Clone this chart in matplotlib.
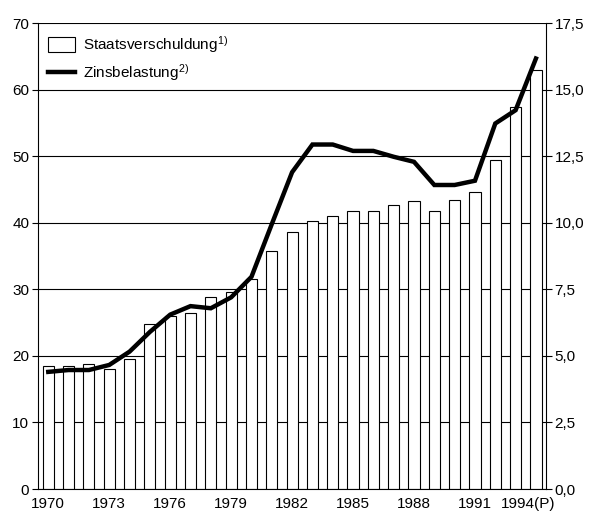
import numpy as np
import matplotlib
matplotlib.use("Agg")
import matplotlib.pyplot as plt
import matplotlib.transforms as mtrans
from matplotlib.patches import Patch
from matplotlib.lines import Line2D
from matplotlib.ticker import FuncFormatter

plt.rcParams['font.family'] = ['Liberation Sans', 'DejaVu Sans']
plt.rcParams['mathtext.default'] = 'regular'

years = list(range(1970, 1995))
# Staatsverschuldung (linke Achse)
schulden = [18.5, 18.5, 18.8, 18.1, 19.5, 24.8, 26.0, 26.5, 28.8, 29.6,
            31.6, 35.7, 38.6, 40.3, 41.0, 41.7, 41.7, 42.7, 43.2, 41.8,
            43.4, 44.6, 49.5, 57.4, 63.0]
# Zinsbelastung (rechte Achse)
zinsen = [4.4, 4.47, 4.47, 4.66, 5.16, 5.9, 6.55, 6.87, 6.79, 7.2,
          7.97, 9.95, 11.9, 12.94, 12.94, 12.7, 12.7, 12.48, 12.29, 11.42,
          11.42, 11.58, 13.73, 14.23, 16.17]
xlabels = ['1970', '1973', '1976', '1979', '1982', '1985', '1988', '1991', '1994(P)']
left_ticks = [0, 10, 20, 30, 40, 50, 60, 70]
right_ticks = [0, 2.5, 5, 7.5, 10, 12.5, 15, 17.5]

x = np.arange(len(years))

fig = plt.figure(figsize=(5.91, 5.14), dpi=100)
ax = fig.add_axes([0.0638, 0.0486, 0.8602, 0.9064])
ax.set_axisbelow(True)
ax.grid(axis='y', color='black', linewidth=0.8)
ax.bar(x, schulden, width=0.55, color='white', edgecolor='black', linewidth=0.8, zorder=2)
ax.set_ylim(0, 70)
ax.set_xlim(-0.52, 24.5)
ax.set_yticks(left_ticks)
ax.set_xticks(x[::3])
ax.set_xticklabels(xlabels)
ax.tick_params(axis='x', length=0, labelsize=11, pad=6)
ax.tick_params(axis='y', length=4, width=0.8, labelsize=11, pad=2)
for s in ['top', 'right']:
    ax.spines[s].set_visible(False)

# "1994(P)" sits a bit left, like in the original
last = ax.get_xticklabels()[-1]
last.set_transform(last.get_transform() + mtrans.ScaledTranslation(-8 / 100, 0, fig.dpi_scale_trans))

ax2 = ax.twinx()
ax2.plot(x, zinsen, color='black', linewidth=3.2, solid_joinstyle='miter', zorder=3)
ax2.set_ylim(0, 17.5)
ax2.set_yticks(right_ticks)
ax2.yaxis.set_major_formatter(FuncFormatter(lambda v, p: f"{v:.1f}".replace('.', ',')))
ax2.tick_params(axis='y', length=4, width=0.8, labelsize=11, pad=2)
for s in ['top', 'left', 'bottom']:
    ax2.spines[s].set_visible(False)
ax2.spines['right'].set_linewidth(0.8)
ax.spines['left'].set_linewidth(0.8)
ax.spines['bottom'].set_linewidth(0.8)

handles = [Patch(facecolor='white', edgecolor='black', linewidth=0.8),
           Line2D([0], [0], color='black', linewidth=3.2)]
labels = ['Staatsverschuldung$^{1)}$', 'Zinsbelastung$^{2)}$']
ax2.legend(handles, labels, loc='upper left', frameon=False, fontsize=11,
           handlelength=1.75, handleheight=1.1, handletextpad=0.5,
           borderaxespad=0.3, labelspacing=0.5)

fig.savefig('out.png', dpi=100)
